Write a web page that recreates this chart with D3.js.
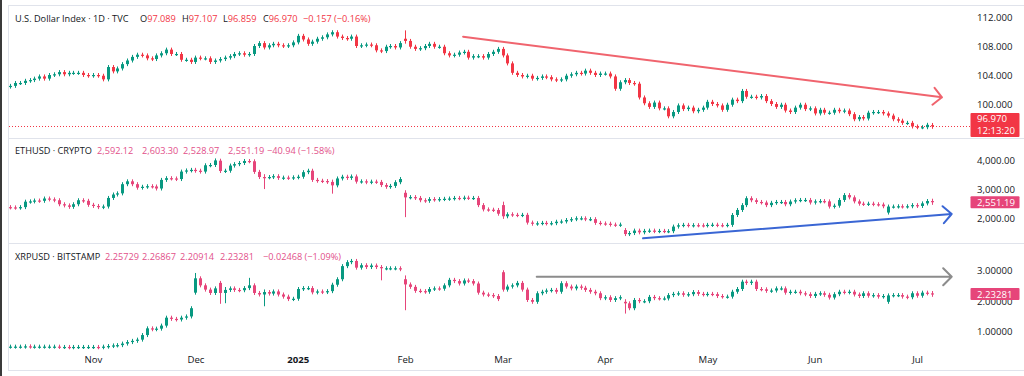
<!DOCTYPE html>
<html>
<head>
<meta charset="utf-8">
<script src="https://cdn.jsdelivr.net/npm/d3@7"></script>
<style>
  html, body { margin: 0; padding: 0; background: #fff; }
  svg { display: block; font-family: "Open Sans", sans-serif; }
</style>
</head>
<body>
<svg id="chart" width="1024" height="376"></svg>
<script>
// session days of the main symbol (DXY): weekdays without exchange holidays
const firstDay = new Date(2024, 9, 9), lastDay = new Date(2025, 6, 4);
const holidays = ["2024-12-25", "2025-01-01", "2025-04-18"];

// daily closes, one per session day
const dxyClose = [
  102.5, 102.9, 102.9, 103.2, 103.3, 103.5, 103.8, 103.5, 104.0, 104.1, 104.4, 104.1, 104.3, 104.3, 104.3, 104.0, 103.9,
  104.0, 103.9, 103.4, 105.1, 104.5, 104.9, 105.5, 106.0, 106.5, 106.8, 106.7, 106.3, 106.2, 106.7, 107.0, 107.5, 106.9, 106.9, 106.1, 106.1, 105.8,
  106.4, 106.3, 106.3, 105.8, 106.0, 106.2, 106.4, 106.6, 106.9, 107.0, 106.8, 106.9, 108.0, 108.4, 107.8, 108.1, 108.3, 108.1, 108.0, 108.1, 108.5,
  109.4, 108.9, 108.3, 108.6, 109.0, 109.2, 109.6, 109.9, 109.3, 109.1, 109.0, 109.3, 108.0, 108.1, 108.2, 108.1, 107.4, 107.3, 107.9, 108.0, 107.8, 108.4,
  108.7, 107.9, 107.6, 107.7, 108.0, 108.3, 107.9, 107.9, 107.0, 106.7, 106.8, 107.1, 107.2, 106.4, 106.6, 106.6, 106.4, 106.9, 107.2, 107.6,
  106.7, 105.6, 104.3, 104.0, 103.8, 103.9, 103.5, 103.6, 103.8, 103.7, 103.4, 103.3, 103.4, 103.9, 104.1, 104.3, 104.2, 104.6, 104.3, 104.0, 104.2,
  104.2, 103.8, 102.1, 103.0, 103.3, 102.9, 102.8, 100.9, 100.1, 99.6, 100.2, 99.4, 99.4, 98.3, 98.9, 99.8, 99.3, 99.5, 99.0, 99.2, 99.5,
  100.3, 100.0, 99.8, 99.2, 99.9, 100.6, 100.4, 101.8, 101.0, 101.0, 100.9, 101.1, 100.4, 100.0, 99.6, 99.9, 99.1, 98.9, 99.5, 99.9, 99.3, 99.4,
  98.7, 99.2, 98.8, 98.8, 99.2, 99.0, 99.1, 98.6, 97.9, 98.2, 98.0, 98.8, 98.9, 98.9, 98.7, 98.4, 97.9, 97.7, 97.4, 97.4, 96.9,
  96.8, 96.8, 97.13, 96.97
];
const ethClose = [
  2370, 2360, 2380, 2570, 2580, 2610, 2600, 2680, 2650, 2620, 2480, 2440, 2390, 2480, 2620, 2600, 2460,
  2420, 2380, 2400, 2700, 2820, 2860, 3180, 3280, 3180, 3060, 3090, 3110, 3100, 3030, 3330, 3390, 3380, 3360, 3620, 3660, 3680,
  3650, 3620, 3840, 3850, 4010, 3640, 3650, 3830, 3880, 3920, 3990, 3980, 3610, 3430, 3420, 3430, 3460, 3400, 3410, 3400, 3420,
  3440, 3600, 3650, 3330, 3300, 3290, 3260, 3140, 3380, 3440, 3400, 3450, 3270, 3280, 3250, 3270, 3260, 3150, 3090, 3120, 3250, 3360,
  2720, 2730, 2700, 2620, 2600, 2660, 2640, 2660, 2670, 2680, 2700, 2690, 2710, 2700, 2700, 2450, 2300, 2290, 2280, 2150,
  2060, 2130, 2110, 2100, 2110, 1840, 1800, 1815, 1830, 1810, 1820, 1870, 1880, 1930, 1960, 1990, 1990, 1960, 1960, 1830, 1810,
  1800, 1770, 1760, 1770, 1440, 1475, 1560, 1500, 1550, 1560, 1540, 1550, 1540, 1540, 1700, 1745, 1760, 1740, 1750, 1745, 1740,
  1760, 1765, 1750, 1745, 1760, 2105, 2280, 2450, 2690, 2620, 2560, 2540, 2450, 2530, 2560, 2560, 2480, 2575, 2620, 2630, 2630, 2540,
  2580, 2590, 2580, 2400, 2430, 2630, 2800, 2720, 2580, 2500, 2490, 2500, 2480, 2470, 2410, 2400, 2400, 2410, 2400, 2410, 2450,
  2420, 2510, 2592.12, 2551.19
];
const xrpClose = [
  0.51, 0.51, 0.51, 0.52, 0.51, 0.51, 0.51, 0.51, 0.51, 0.51, 0.50, 0.50, 0.49, 0.50, 0.50, 0.50, 0.50,
  0.50, 0.49, 0.51, 0.53, 0.55, 0.56, 0.61, 0.66, 0.70, 0.74, 0.89, 1.11, 1.08, 1.10, 1.20, 1.46, 1.42, 1.40, 1.46, 1.50, 1.77,
  2.75, 2.52, 2.38, 2.27, 2.42, 2.27, 2.37, 2.42, 2.37, 2.36, 2.43, 2.52, 2.27, 2.22, 2.30, 2.25, 2.32, 2.22, 2.15, 2.07, 2.08,
  2.40, 2.43, 2.43, 2.29, 2.32, 2.30, 2.33, 2.54, 2.72, 3.15, 3.28, 3.32, 3.10, 3.18, 3.12, 3.17, 3.12, 3.08, 3.08, 3.08, 3.08, 3.05,
  2.55, 2.47, 2.34, 2.33, 2.31, 2.40, 2.42, 2.41, 2.52, 2.70, 2.66, 2.58, 2.68, 2.66, 2.58, 2.28, 2.22, 2.20, 2.17, 2.07,
  2.38, 2.48, 2.52, 2.60, 2.38, 2.04, 1.98, 2.26, 2.31, 2.35, 2.37, 2.31, 2.59, 2.48, 2.42, 2.48, 2.44, 2.37, 2.31, 2.26, 2.10,
  2.13, 2.04, 2.10, 2.13, 1.93, 1.77, 2.04, 2.00, 2.00, 2.14, 2.10, 2.09, 2.09, 2.20, 2.24, 2.26, 2.21, 2.23, 2.30, 2.24, 2.22,
  2.24, 2.23, 2.17, 2.15, 2.15, 2.31, 2.40, 2.64, 2.60, 2.64, 2.40, 2.39, 2.34, 2.35, 2.42, 2.42, 2.28, 2.31, 2.31, 2.26, 2.23, 2.17,
  2.24, 2.26, 2.21, 2.12, 2.23, 2.31, 2.29, 2.31, 2.22, 2.17, 2.26, 2.18, 2.20, 2.15, 2.17, 2.19, 2.20, 2.20, 2.15, 2.13, 2.26,
  2.18, 2.28, 2.25729, 2.23281
];

// opens that differ from the previous close (gaps), by bar index
const dxyOpens = { 0: 102.4, 81: 109.0, 189: 97.089 };
const ethOpens = { 0: 2380, 43: 4000, 81: 2880, 101: 2450, 126: 1580, 180: 2190, 189: 2592.12 };
const xrpOpens = { 0: 0.51, 38: 2.28, 43: 2.60, 81: 2.72, 101: 2.95, 126: 1.98, 180: 1.98, 189: 2.25729 };

// visible long wicks: [low, high]
const dxyWicks = { 81: [108.6, 109.88], 189: [96.859, 97.107] };
const ethWicks = { 52: [3080, 3460], 66: [2920, 3270], 81: [2100, 2900], 101: [2040, 2500], 189: [2528.97, 2603.30] };
const xrpWicks = { 38: [2.28, 2.86], 43: [1.98, 2.60], 44: [2.0, 2.40], 49: [2.43, 2.70], 52: [1.90, 2.32], 76: [2.75, 3.12], 81: [1.77, 2.78], 126: [1.66, 2.0], 189: [2.20914, 2.26867] };

// price scale ticks
const dxyTicks = [100, 104, 108, 112];
const ethTicks = [2000, 3000, 4000];
const xrpTicks = [1, 2, 3];

// legend texts
const dxyTitle = "U.S. Dollar Index · 1D · TVC";
const dxyOHLC = ["97.089", "97.107", "96.859", "96.970"];
const dxyChange = "−0.157 (−0.16%)";
const ethTitle = "ETHUSD · CRYPTO";
const ethOHLC = ["2,592.12", "2,603.30", "2,528.97", "2,551.19"];
const ethChange = "−40.94 (−1.58%)";
const xrpTitle = "XRPUSD · BITSTAMP";
const xrpOHLC = ["2.25729", "2.26867", "2.20914", "2.23281"];
const xrpChange = "−0.02468 (−1.09%)";
const countdown = "12:13:20";

// drawn trend lines: [bar index, price]
const dxyTrend = [[92.9, 109.28], [191.1, 100.92]];
const ethTrend = [[129.8, 1291], [193.1, 2140]];
const xrpTrend = [[108, 2.80], [193.1, 2.80]];

const fmtDay = d3.timeFormat("%Y-%m-%d");
const days = d3.timeDay.range(firstDay, d3.timeDay.offset(lastDay, 1))
  .filter(d => d.getDay() !== 0 && d.getDay() !== 6 && !holidays.includes(fmtDay(d)));

const svg = d3.select("#chart");
const textColor = "#131722";
const gridLine = "#e0e3eb";
const legendSize = "9.2px";
const axisSize = "9.6px";

const x = d3.scaleLinear().domain([0, days.length - 1]).range([10.1, 931.7]);

// frame
svg.append("rect").attr("x", 0).attr("y", 0).attr("width", 2).attr("height", 376).attr("fill", "#3a3a3a");
[5.5, 138.5, 243.5, 370.5].forEach(yy => {
  svg.append("line").attr("x1", 8).attr("x2", 1024).attr("y1", yy).attr("y2", yy)
    .attr("stroke", gridLine).attr("stroke-width", 1);
});
svg.append("line").attr("x1", 8.5).attr("x2", 8.5).attr("y1", 5).attr("y2", 371)
  .attr("stroke", gridLine).attr("stroke-width", 1);

function buildCandles(close, opens, wicks) {
  return close.map((c, i) => {
    const o = opens[i] !== undefined ? opens[i] : close[i - 1];
    const w = wicks[i];
    return {
      i, o, c,
      h: w ? Math.max(w[1], o, c) : Math.max(o, c),
      l: w ? Math.min(w[0], o, c) : Math.min(o, c)
    };
  });
}

const panes = [
  { close: dxyClose, opens: dxyOpens, wicks: dxyWicks, domain: [100, 112], range: [104, 17],
    ticks: dxyTicks, fmt: d3.format(".3f"), up: "#089981", down: "#f23645",
    title: dxyTitle, ohlc: dxyOHLC, change: dxyChange, letters: ["O", "H", "L", "C"],
    headY: 22, valX: [140, 182, 223, 263], chgX: 303, valColor: "#f23645",
    trend: dxyTrend, trendColor: "#f0646e" },
  { close: ethClose, opens: ethOpens, wicks: ethWicks, domain: [2000, 4000], range: [218, 160.7],
    ticks: ethTicks, fmt: d3.format(",.2f"), up: "#089981", down: "#e6457a",
    title: ethTitle, ohlc: ethOHLC, change: ethChange, letters: null,
    headY: 154, valX: [97, 142, 183, 228], chgX: 267, valColor: "#e2508a",
    trend: ethTrend, trendColor: "#3a66d4" },
  { close: xrpClose, opens: xrpOpens, wicks: xrpWicks, domain: [1, 3], range: [331.7, 270.7],
    ticks: xrpTicks, fmt: d3.format(".5f"), up: "#089981", down: "#e6457a",
    title: xrpTitle, ohlc: xrpOHLC, change: xrpChange, letters: null,
    headY: 260, valX: [105, 142, 180, 220], chgX: 263, valColor: "#e2508a",
    trend: xrpTrend, trendColor: "#8c8c8c" }
];

panes.forEach((p, k) => {
  const y = d3.scaleLinear().domain(p.domain).range(p.range);
  const data = buildCandles(p.close, p.opens, p.wicks);
  const last = data[data.length - 1];

  // price scale
  svg.append("g")
    .attr("transform", "translate(977,0)")
    .call(d3.axisRight(y).tickValues(p.ticks).tickFormat(p.fmt).tickSize(0).tickPadding(0))
    .call(g => g.select(".domain").remove())
    .call(g => g.selectAll("text").attr("fill", textColor).style("font-size", axisSize)
      .style("font-family", "'Open Sans', sans-serif"));

  // current price dotted line (main symbol only)
  if (k === 0) {
    svg.append("line")
      .attr("x1", 9).attr("x2", 970)
      .attr("y1", Math.round(y(last.c)) + 0.5).attr("y2", Math.round(y(last.c)) + 0.5)
      .attr("stroke", p.down).attr("stroke-width", 1).attr("stroke-dasharray", "1,2");
  }

  // candles
  const g = svg.append("g");
  const bars = g.selectAll("g").data(data).join("g");
  bars.append("rect")
    .attr("x", d => Math.round(x(d.i)))
    .attr("width", 1)
    .attr("y", d => y(d.h) - 2)
    .attr("height", d => y(d.l) - y(d.h) + 4)
    .attr("fill", d => d.c >= d.o ? p.up : p.down);
  bars.append("rect")
    .attr("x", d => Math.round(x(d.i)) - 1)
    .attr("width", 3)
    .attr("y", d => Math.min(y(d.o), y(d.c)))
    .attr("height", d => Math.max(1.2, Math.abs(y(d.o) - y(d.c))))
    .attr("fill", d => d.c >= d.o ? p.up : p.down);

  // trend line with open arrow head
  const [a, b] = p.trend;
  const x1 = x(a[0]), y1 = y(a[1]), x2 = x(b[0]), y2 = y(b[1]);
  const ang = Math.atan2(y2 - y1, x2 - x1);
  const len = 12, spread = Math.PI / 4;
  svg.append("path")
    .attr("d", `M${x1},${y1}L${x2},${y2}` +
      `M${x2 - len * Math.cos(ang - spread)},${y2 - len * Math.sin(ang - spread)}L${x2},${y2}` +
      `L${x2 - len * Math.cos(ang + spread)},${y2 - len * Math.sin(ang + spread)}`)
    .attr("fill", "none").attr("stroke", p.trendColor).attr("stroke-width", 2)
    .attr("stroke-linecap", "round").attr("stroke-linejoin", "round");

  // last price label
  const ly = y(last.c);
  const boxH = k === 0 ? 24 : 12;
  const boxTop = k === 0 ? ly - 13 : ly - 6;
  svg.append("rect")
    .attr("x", 970.5).attr("y", boxTop).attr("width", 49).attr("height", boxH)
    .attr("rx", 1).attr("fill", p.down);
  svg.append("text")
    .attr("x", 977).attr("y", boxTop + 9.5)
    .attr("fill", "#fff").style("font-size", axisSize)
    .text(p.fmt(last.c));
  if (k === 0) {
    svg.append("text")
      .attr("x", 977).attr("y", boxTop + 21.5)
      .attr("fill", "#fff").style("font-size", axisSize)
      .text(countdown);
  }

  // legend
  svg.append("text")
    .attr("x", 15).attr("y", p.headY)
    .attr("fill", textColor).style("font-size", legendSize)
    .text(p.title);
  p.ohlc.forEach((v, j) => {
    const t = svg.append("text")
      .attr("x", p.valX[j]).attr("y", p.headY)
      .style("font-size", legendSize);
    if (p.letters) t.append("tspan").attr("fill", textColor).text(p.letters[j]);
    t.append("tspan").attr("fill", p.valColor).text(v);
  });
  svg.append("text")
    .attr("x", p.chgX).attr("y", p.headY)
    .attr("fill", p.valColor).style("font-size", legendSize)
    .text(p.change);
});

// time axis: first session of each month
const monthStarts = days.map((d, i) => i).filter(i => i > 0 && days[i].getMonth() !== days[i - 1].getMonth());
svg.append("g")
  .attr("transform", "translate(0,356.5)")
  .call(d3.axisBottom(x).tickValues(monthStarts).tickSize(0).tickPadding(0)
    .tickFormat(i => days[i].getMonth() === 0 ? d3.timeFormat("%Y")(days[i]) : d3.timeFormat("%b")(days[i])))
  .call(g => g.select(".domain").remove())
  .call(g => g.selectAll("text").attr("fill", textColor).style("font-size", axisSize)
    .style("font-family", "'Open Sans', sans-serif")
    .style("font-weight", i => days[i].getMonth() === 0 ? "bold" : "normal"));
</script>
</body>
</html>
